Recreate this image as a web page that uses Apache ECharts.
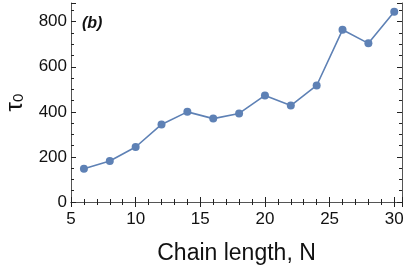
<!DOCTYPE html>
<html><head><meta charset="utf-8">
<script src="https://cdn.jsdelivr.net/npm/echarts@6/dist/echarts.min.js"></script>
<style>html,body{margin:0;padding:0;background:#fff}#c{width:407px;height:266px}</style>
</head><body><div id="c"></div>
<script>
const chainLength = [6, 8, 10, 12, 14, 16, 18, 20, 22, 24, 26, 28, 30];
const tau0 = [148, 182, 244, 344, 400, 370, 393, 473, 428, 517, 764, 704, 844];
const xTicks = [5, 10, 15, 20, 25, 30];
const yTicks = [0, 200, 400, 600, 800];

const chart = echarts.init(document.getElementById('c'), null, {renderer: 'canvas'});
const font = 'Liberation Sans, Arial, sans-serif';
const axisLine = {show: true, lineStyle: {color: '#555', width: 1}};
const baseX = {
  type: 'value', min: 5, max: 30.6, interval: 5,
  axisLine: axisLine,
  axisTick: {show: true, inside: true, length: 5, lineStyle: {color: '#222'}},
  minorTick: {show: true, splitNumber: 5, length: 3, lineStyle: {color: '#222'}},
  splitLine: {show: false}, minorSplitLine: {show: false}
};
const baseY = {
  type: 'value', min: 0, max: 883, interval: 200,
  axisLine: axisLine,
  axisTick: {show: true, inside: true, length: 5, lineStyle: {color: '#222'}},
  minorTick: {show: true, splitNumber: 4, length: 3, lineStyle: {color: '#222'}},
  splitLine: {show: false}, minorSplitLine: {show: false}
};
chart.setOption({
  animation: false,
  grid: {left: 71, right: 5, top: 3, bottom: 64, containLabel: false, outerBoundsMode: 'none'},
  xAxis: [
    Object.assign({}, baseX, {
      position: 'bottom',
      axisLabel: {show: true, color: '#111', fontSize: 17, fontFamily: font, margin: 9,
        formatter: v => xTicks.includes(v) ? String(v) : ''},
      name: 'Chain length, N', nameLocation: 'middle', nameGap: 40,
      nameTextStyle: {color: '#111', fontSize: 23, fontFamily: font}
    }),
    Object.assign({}, baseX, {position: 'top', axisLabel: {show: false}})
  ],
  yAxis: [
    Object.assign({}, baseY, {
      position: 'left',
      axisLabel: {show: true, color: '#111', fontSize: 17, fontFamily: font, margin: 4,
        formatter: v => yTicks.includes(v) ? String(v) : ''},
      name: '{a|τ}{b|0}', nameLocation: 'middle', nameGap: 41, nameRotate: 90,
      nameTextStyle: {rich: {
        a: {fontSize: 24, fontFamily: font, color: '#111'},
        b: {fontSize: 15, fontFamily: font, color: '#111', padding: [7, 0, 0, 0]}}}
    }),
    Object.assign({}, baseY, {position: 'right', axisLabel: {show: false}})
  ],
  graphic: [
    {type: 'text', left: 82, top: 16,
      style: {text: '(b)', font: 'italic bold 16px ' + font, fill: '#111'}}
  ],
  series: [{
    type: 'line', xAxisIndex: 0, yAxisIndex: 0,
    data: chainLength.map((n, i) => [n, tau0[i]]),
    symbol: 'circle', symbolSize: 8,
    lineStyle: {color: '#5E81B5', width: 1.6},
    itemStyle: {color: '#5E81B5'}
  }]
});
</script></body></html>
